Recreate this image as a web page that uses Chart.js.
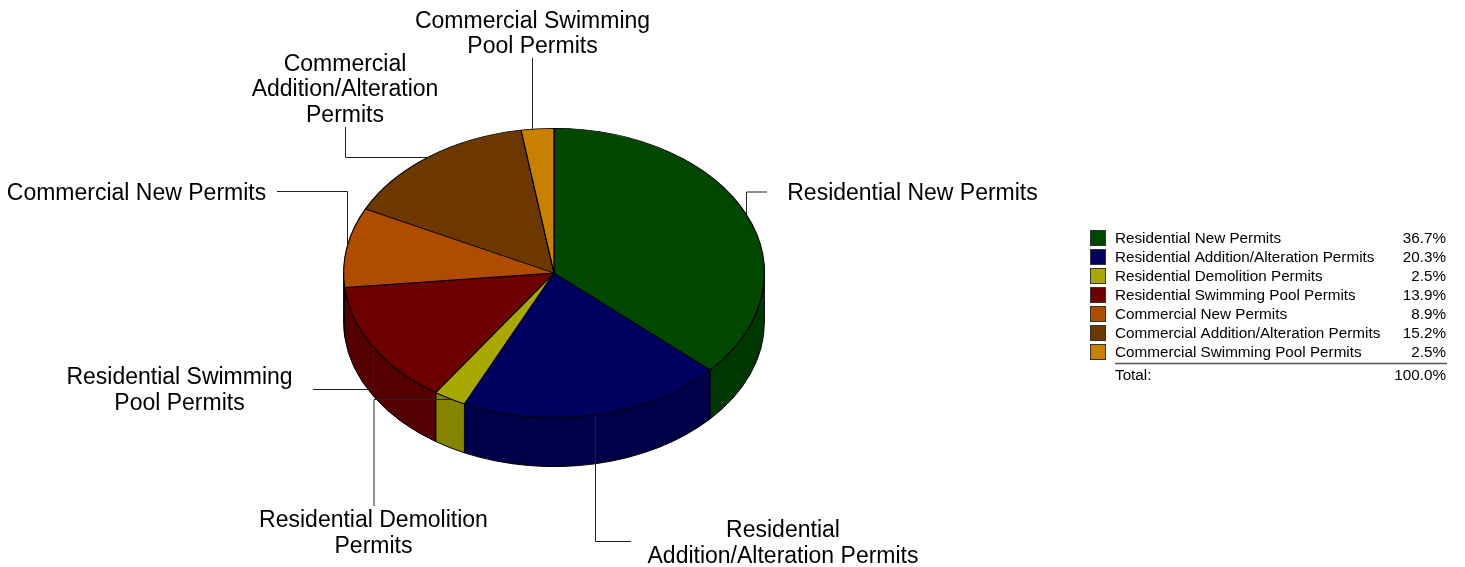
<!DOCTYPE html>
<html lang="en">
<head>
  <meta charset="UTF-8">
  <title>Permits by Type</title>
  <script src="https://cdn.jsdelivr.net/npm/chart.js"></script>
  <style>
    html, body { margin: 0; padding: 0; background: white; overflow: hidden; }
    canvas { display: block; }
  </style>
</head>
<body>
  <canvas id="pie" width="1465" height="567"></canvas>
  <script>
    const categories = [
      "Residential New Permits",
      "Residential Addition/Alteration Permits",
      "Residential Demolition Permits",
      "Residential Swimming Pool Permits",
      "Commercial New Permits",
      "Commercial Addition/Alteration Permits",
      "Commercial Swimming Pool Permits"
    ];
    const shares = [36.7, 20.3, 2.5, 13.9, 8.9, 15.2, 2.5];
    const shareLabels = ["36.7%", "20.3%", "2.5%", "13.9%", "8.9%", "15.2%", "2.5%"];
    const totalLabel = "100.0%";
    const topColors = ["#004800", "#000060", "#a8a800", "#6c0000", "#b04c00", "#6c3800", "#c88000"];
    const sideColors = ["#003600", "#000048", "#848400", "#540000", "#843900", "#512a00", "#966000"];

    // callouts, in the same order as the categories
    const callouts = [
      { lines: ["Residential New Permits"], x: 912.5, y: [194], from: [767, 192], elbow: "h" },
      { lines: ["Residential", "Addition/Alteration Permits"], x: 783, y: [531, 557], from: [631, 541.5], elbow: "h" },
      { lines: ["Residential Demolition", "Permits"], x: 373.5, y: [521, 547], from: [374, 506], elbow: "v" },
      { lines: ["Residential Swimming", "Pool Permits"], x: 179.5, y: [378, 404], from: [313, 389.5], elbow: "h" },
      { lines: ["Commercial New Permits"], x: 136.5, y: [194], from: [277, 191.5], elbow: "h" },
      { lines: ["Commercial", "Addition/Alteration", "Permits"], x: 345, y: [65, 90, 116], from: [345.5, 127], elbow: "v" },
      { lines: ["Commercial Swimming", "Pool Permits"], x: 532.5, y: [22, 47], from: [533, 58], elbow: "h", dx: -5 }
    ];

    const squash = 145 / 211;
    const depth = 49;

    // walls of the cylinder, then the flattened top
    const tiltPlugin = {
      id: "tilt",
      beforeDatasetsDraw(chart) {
        const ctx = chart.ctx;
        const arcs = chart.getDatasetMeta(0).data;
        const cx = arcs[0].x, cy = arcs[0].y, r = arcs[0].outerRadius, ry = r * squash;
        ctx.save();
        ctx.strokeStyle = "#000";
        ctx.lineWidth = 1;
        arcs.forEach((arc, i) => {
          const a = Math.max(arc.startAngle, 0);
          const b = Math.min(arc.endAngle, Math.PI);
          if (b <= a) return;
          ctx.beginPath();
          ctx.ellipse(cx, cy, r, ry, 0, a, b);
          ctx.ellipse(cx, cy + depth, r, ry, 0, b, a, true);
          ctx.closePath();
          ctx.fillStyle = sideColors[i];
          ctx.fill();
          ctx.stroke();
        });
        ctx.restore();
        ctx.save();
        ctx.translate(0, cy);
        ctx.scale(1, squash);
        ctx.translate(0, -cy);
      },
      afterDatasetsDraw(chart) {
        chart.ctx.restore();
      },
      afterDraw(chart) {
        drawCallouts(chart);
        drawLegend(chart);
      }
    };

    function drawCallouts(chart) {
      const ctx = chart.ctx;
      const arcs = chart.getDatasetMeta(0).data;
      ctx.save();
      ctx.strokeStyle = "#222";
      ctx.lineWidth = 1;
      callouts.forEach((c, i) => {
        const arc = arcs[i];
        const mid = (arc.startAngle + arc.endAngle) / 2;
        const ax = arc.x + arc.outerRadius * Math.cos(mid) + (c.dx || 0);
        const ay = arc.y + arc.outerRadius * squash * Math.sin(mid) + (c.dy || 0);
        ctx.beginPath();
        ctx.moveTo(c.from[0], c.from[1]);
        if (c.elbow === "h") ctx.lineTo(Math.round(ax) + 0.5, c.from[1]);
        else ctx.lineTo(c.from[0], Math.round(ay) + 0.5);
        if (c.elbow === "h") ctx.lineTo(Math.round(ax) + 0.5, ay);
        else ctx.lineTo(ax, Math.round(ay) + 0.5);
        ctx.stroke();

        ctx.fillStyle = "#000";
        ctx.font = "23px 'Liberation Sans', Arial, sans-serif";
        ctx.textAlign = "center";
        ctx.textBaseline = "middle";
        c.lines.forEach((line, k) => ctx.fillText(line, c.x, c.y[k]));
      });
      ctx.restore();
    }

    function drawLegend(chart) {
      const ctx = chart.ctx;
      ctx.save();
      ctx.font = "15.25px 'Liberation Sans', Arial, sans-serif";
      ctx.textBaseline = "middle";
      categories.forEach((name, i) => {
        const y = 238 + i * 19;
        ctx.fillStyle = topColors[i];
        ctx.fillRect(1090.5, y - 7.5, 15, 15);
        ctx.strokeStyle = "#333";
        ctx.lineWidth = 1;
        ctx.strokeRect(1090.5, y - 7.5, 15, 15);
        ctx.fillStyle = "#000";
        ctx.textAlign = "left";
        ctx.fillText(name, 1115, y + 0.5);
        ctx.textAlign = "right";
        ctx.fillText(shareLabels[i], 1446, y + 0.5);
      });
      ctx.strokeStyle = "#555";
      ctx.lineWidth = 1.5;
      ctx.beginPath();
      ctx.moveTo(1115, 363.5);
      ctx.lineTo(1447, 363.5);
      ctx.stroke();
      ctx.fillStyle = "#000";
      ctx.textAlign = "left";
      ctx.fillText("Total:", 1115, 376);
      ctx.textAlign = "right";
      ctx.fillText(totalLabel, 1446, 376);
      ctx.restore();
    }

    new Chart(document.getElementById("pie"), {
      type: "pie",
      data: {
        labels: categories,
        datasets: [{
          data: shares,
          backgroundColor: topColors,
          borderColor: "#000",
          borderWidth: 1.2
        }]
      },
      options: {
        responsive: false,
        animation: false,
        devicePixelRatio: 1,
        layout: { padding: { left: 343, right: 700, top: 62, bottom: 83 } },
        plugins: { legend: { display: false }, tooltip: { enabled: false } }
      },
      plugins: [tiltPlugin]
    });
  </script>
</body>
</html>
